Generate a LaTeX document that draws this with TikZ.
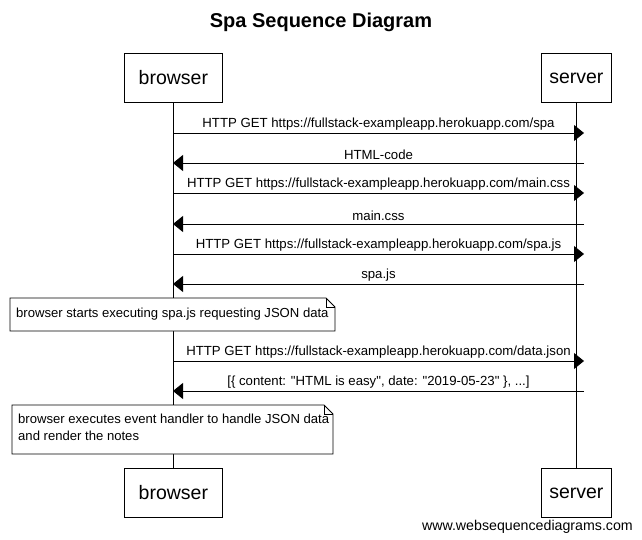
\documentclass[tikz,border=0pt]{standalone}
\usepackage{fontspec}
\setmainfont{Liberation Sans}[Ligatures=TeXOff]
\usetikzlibrary{arrows.meta}
\begin{document}
\begin{tikzpicture}[x=1pt,y=-1pt,
  actor/.style={draw,line width=0.8pt,minimum width=98pt,minimum height=49pt,inner sep=0pt,font=\fontsize{19.5}{22}\selectfont,anchor=north west},
  actorS/.style={actor,minimum width=70pt},
  msg/.style={line width=0.8pt,-{Triangle[length=10pt,width=16pt]}},
  lbl/.style={font=\fontsize{13.2}{15}\selectfont,inner sep=0pt,anchor=base},
  notetxt/.style={font=\fontsize{13.1}{16.5}\selectfont,inner sep=0pt,anchor=north west,align=left},
  notebox/.style={draw,line width=0.8pt,fill=white},
  life/.style={line width=0.8pt}]
\useasboundingbox (0,0) rectangle (642,540);
\node[font=\bfseries\fontsize{20}{24}\selectfont] (title) at (321,22) {Spa Sequence Diagram};
% actors
\node[actor]  (bt) at (124,53) {browser};
\node[actorS] (st) at (541,53) {server};
\node[actor]  (bb) at (124,468) {browser};
\node[actorS] (sb) at (541,468) {server};
\draw[life] (bt.south) -- (bb.north);
\draw[life] (st.south) -- (sb.north);
% message coordinates
\foreach \n/\y in {1/133,2/163,3/193,4/224,5/254,6/284,7/361,8/391}{
  \coordinate (b\n) at (173,\y);
  \coordinate (s\n) at (584,\y);
}
\draw[msg] (b1) -- (s1) node[lbl,midway,above=2.5pt] (l1) {HTTP GET https://fullstack-exampleapp.herokuapp.com/spa};
\draw[msg] (s2) -- (b2) node[lbl,midway,above=2.5pt] (l2) {HTML-code};
\draw[msg] (b3) -- (s3) node[lbl,midway,above=2.5pt] (l3) {HTTP GET https://fullstack-exampleapp.herokuapp.com/main.css};
\draw[msg] (s4) -- (b4) node[lbl,midway,above=2.5pt] (l4) {main.css};
\draw[msg] (b5) -- (s5) node[lbl,midway,above=2.5pt] (l5) {HTTP GET https://fullstack-exampleapp.herokuapp.com/spa.js};
\draw[msg] (s6) -- (b6) node[lbl,midway,above=2.5pt] (l6) {spa.js};
\draw[msg] (b7) -- (s7) node[lbl,midway,above=2.5pt] (l7) {HTTP GET https://fullstack-exampleapp.herokuapp.com/data.json};
\draw[msg] (s8) -- (b8) node[lbl,midway,above=2.5pt] (l8) {[\{ content: "HTML is easy", date: "2019-05-23" \}, ...]};
% note 1
\draw[notebox] (10,298) -- (326,298) -- (335,307) -- (335,331) -- (10,331) -- cycle;
\draw[line width=0.8pt] (326,298) -- (326,307) -- (335,307);
\node[notetxt] (n1) at (16,308) {browser starts executing spa.js requesting JSON data};
% note 2
\draw[notebox] (12,405) -- (324,405) -- (333,414) -- (333,454) -- (12,454) -- cycle;
\draw[line width=0.8pt] (324,405) -- (324,414) -- (333,414);
\node[notetxt] (n2) at (18,414) {browser executes event handler to handle JSON data\\and render the notes};
\node[font=\fontsize{14.2}{16}\selectfont,anchor=base east,inner sep=0pt] (wm) at (633,530) {www.websequencediagrams.com};
\end{tikzpicture}
\end{document}
